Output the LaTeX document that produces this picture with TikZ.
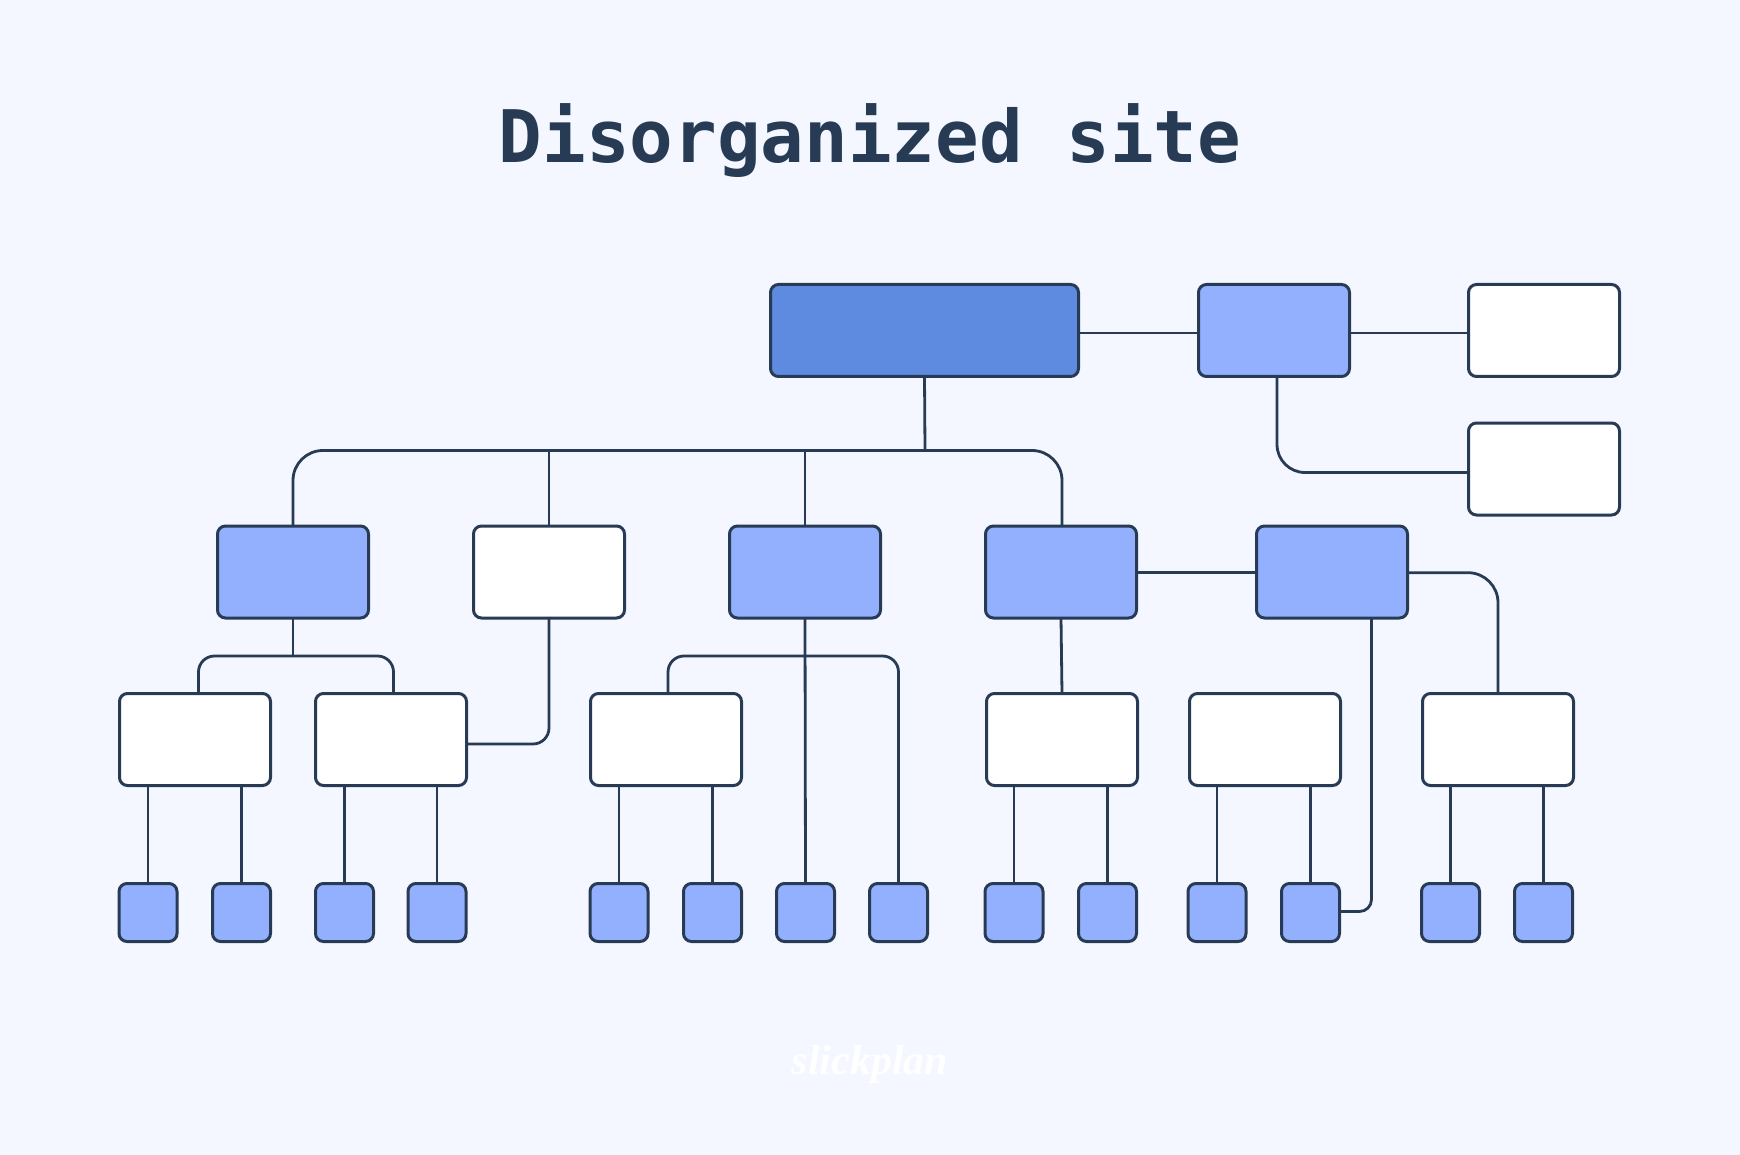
\documentclass[tikz,border=0pt]{standalone}
\usepackage{fontspec}
\newfontfamily\titlefont{DejaVu Sans Mono}
\newfontfamily\logofont{Liberation Serif}
\definecolor{pagebg}{HTML}{F4F7FF}
\definecolor{inkline}{HTML}{283B54}
\definecolor{rootblue}{HTML}{5E8BE0}
\definecolor{lightblue}{HTML}{93B0FF}
\tikzset{
  pagebox/.style={draw=inkline, line width=3pt, rounded corners=8pt, inner sep=0pt, outer sep=0pt, minimum width=151pt, minimum height=92pt},
  whitebox/.style={pagebox, fill=white},
  bluebox/.style={pagebox, fill=lightblue},
  rootbox/.style={pagebox, fill=rootblue, minimum width=308pt},
  leafbox/.style={pagebox, fill=lightblue, minimum width=58pt, minimum height=58pt},
  link/.style={draw=inkline, line width=2.8pt}
}
\begin{document}
\begin{tikzpicture}[x=1pt, y=-1pt]
\fill[pagebg] (0,0) rectangle (1740,1155);
\useasboundingbox (0,0) rectangle (1740,1155);
\node[font=\titlefont\bfseries\fontsize{72.5}{72.5}\selectfont, text=inkline] (title) at (870,141) {Disorganized site};
\node[font=\logofont\bfseries\itshape\fontsize{42}{42}\selectfont, text=white] (logo) at (870,1064) {slickplan};

\node[rootbox] (root) at (924.5,330.5) {};
\node[bluebox] (top) at (1274,330.5) {};
\node[whitebox] (side1) at (1544,330.5) {};
\node[whitebox] (side2) at (1544,469) {};

\foreach \name/\x/\kind in {n1/293/bluebox, n2/549/whitebox, n3/805/bluebox, n4/1061/bluebox, n5/1332/bluebox}
  \node[\kind] (\name) at (\x,572) {};
\foreach \name/\x in {r1/195, r2/391, r3/666, r4/1062, r5/1265, r6/1498}
  \node[whitebox] (\name) at (\x,739.5) {};
\foreach \name/\x in {l1/148, l2/241.5, l3/344.5, l4/437, l5/619, l6/712.5, l7/805.5, l8/898.5, l9/1014, l10/1107.5, l11/1217, l12/1310.5, l13/1450.5, l14/1543.5}
  \node[leafbox] (\name) at (\x,912.5) {};

\coordinate (trunk) at (925,450.5);
\coordinate (fork1) at (293,656);
\coordinate (fork3) at (805,656);

\draw[link] ([yshift=-2.5pt]root.east) -- ([yshift=-2.5pt]top.west);
\draw[link] ([yshift=-2.5pt]top.east) -- ([yshift=-2.5pt]side1.west);
\draw[link, rounded corners=28pt] ([xshift=3pt]top.south) |- ([yshift=-3.5pt]side2.west);
\draw[link] (root.south) -- (trunk);
\draw[link, rounded corners=30pt] (n1.north) |- (trunk) -| ([xshift=1pt]n4.north);
\draw[link] (n2.north) -- (n2.north |- trunk);
\draw[link] (n3.north) -- (n3.north |- trunk);
\draw[link] ([yshift=-0.7pt]n4.east) -- ([yshift=-0.7pt]n5.west);
\draw[link, rounded corners=30pt] ([yshift=-0.7pt]n5.east) -| (r6.north);
\draw[link] (n1.south) -- (fork1);
\draw[link, rounded corners=16pt] ([xshift=3.5pt]r1.north) |- (fork1) -| ([xshift=2.5pt]r2.north);
\draw[link, rounded corners=16pt] (n2.south) |- ([yshift=-4.5pt]r2.east);
\draw[link] (n3.south) -- (l7.north);
\draw[link, rounded corners=16pt] ([xshift=2pt]r3.north) |- (fork3) -| (l8.north);
\draw[link] (n4.south) -- (r4.north);
\draw[link, rounded corners=12pt] ([xshift=39.5pt]n5.south) |- ([yshift=1pt]l12.east);
\foreach \from/\to in {r1/l1, r1/l2, r2/l3, r2/l4, r3/l5, r3/l6, r4/l9, r4/l10, r5/l11, r5/l12, r6/l13, r6/l14}
  \draw[link] (\to.north) -- (\to.north |- \from.south);
\end{tikzpicture}
\end{document}
